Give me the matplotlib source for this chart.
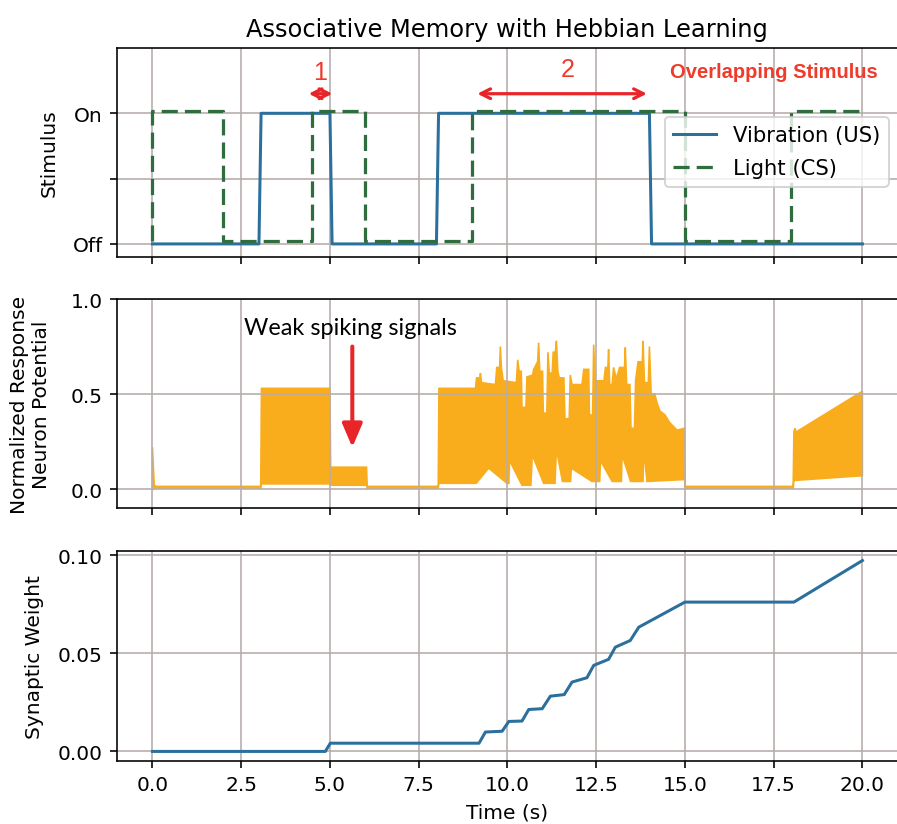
import numpy as np
import matplotlib.pyplot as plt

# stimulus traces (time in s, 0 = off, 1 = on)
us_t = [0.0, 3.0, 3.06, 5.0, 5.06, 8.0, 8.06, 14.0, 14.06, 20.0]
us_v = [0, 0, 1, 1, 0, 0, 1, 1, 0, 0]
cs_t = [0.0, 0.0, 2.0, 2.0, 4.5, 4.5, 6.0, 6.0, 9.0, 9.0, 15.0, 15.0, 18.0, 18.0, 20.0]
cs_v = [0, 1, 1, 0, 0, 1, 1, 0, 0, 1, 1, 0, 0, 1, 1]
cs_offset = 0.02

# neuron response envelope (upper / lower edge of the spiking trace)
hi_t = [0.00, 0.05, 0.10, 3.05, 3.07, 5.00, 5.02, 6.03, 6.05, 8.05, 8.07, 9.10, 9.13,
        9.22, 9.24, 9.27, 9.66, 9.70, 9.78, 9.80, 9.83, 9.88, 10.25, 10.27, 10.29,
        10.33, 10.39, 10.41, 10.52, 10.55, 10.71, 10.74, 10.85, 10.88, 10.91, 10.99,
        11.01, 11.11, 11.14, 11.18, 11.26, 11.29, 11.35, 11.38, 11.42, 11.46, 11.59,
        11.62, 11.74, 11.77, 11.82, 12.10, 12.15, 12.29, 12.31, 12.40, 12.43, 12.47,
        12.72, 12.76, 12.83, 12.85, 12.88, 12.95, 12.99, 13.07, 13.16, 13.30, 13.32,
        13.36, 13.45, 13.48, 13.58, 13.61, 13.68, 13.80, 13.82, 13.86, 13.97, 14.00,
        14.05, 14.15, 14.22, 14.30, 14.44, 14.57, 14.78, 14.99, 15.01, 18.05, 18.07,
        18.10, 18.13, 20.00]
hi_v = [0.22, 0.02, 0.014, 0.014, 0.53, 0.53, 0.115, 0.115, 0.014, 0.014, 0.53, 0.53, 0.585,
        0.585, 0.61, 0.56, 0.55, 0.64, 0.64, 0.75, 0.64, 0.57, 0.56, 0.62, 0.68,
        0.62, 0.62, 0.43, 0.43, 0.59, 0.60, 0.63, 0.67, 0.77, 0.62, 0.62,
        0.40, 0.40, 0.72, 0.61, 0.61, 0.72, 0.72, 0.78, 0.62, 0.585, 0.585,
        0.37, 0.37, 0.60, 0.55, 0.55, 0.63, 0.63, 0.39, 0.39, 0.76, 0.57,
        0.57, 0.64, 0.64, 0.735, 0.55, 0.55, 0.64, 0.58, 0.64, 0.64, 0.745,
        0.55, 0.55, 0.32, 0.32, 0.57, 0.67, 0.67, 0.78, 0.56, 0.56, 0.75,
        0.50, 0.50, 0.45, 0.41, 0.39, 0.35, 0.31, 0.32, 0.014, 0.014, 0.30,
        0.32, 0.30, 0.515]
lo_t = [0.00, 0.05, 3.05, 3.07, 5.00, 5.02, 6.03, 6.05, 8.05, 8.07, 9.12, 9.47, 9.99,
        10.04, 10.06, 10.41, 10.66, 10.70, 11.02, 11.34, 11.38, 11.55, 11.78, 11.80,
        12.38, 12.60, 12.62, 12.95, 13.21, 13.23, 13.47, 13.82, 13.84, 13.93, 14.99,
        15.01, 18.05, 18.07, 20.00]
lo_v = [-0.005, 0.005, 0.005, 0.027, 0.027, 0.02, 0.02, 0.005, 0.005, 0.03, 0.03, 0.11, 0.03,
        0.03, 0.15, 0.02, 0.02, 0.18, 0.03, 0.03, 0.21, 0.04, 0.04, 0.11,
        0.04, 0.04, 0.15, 0.04, 0.04, 0.18, 0.04, 0.04, 0.21, 0.04, 0.05,
        0.005, 0.005, 0.045, 0.07]

# synaptic weight
w_t = [0.0, 4.87, 5.01, 9.20, 9.38, 9.85, 10.04, 10.41, 10.60, 10.98, 11.21, 11.60, 11.82,
       12.24, 12.43, 12.85, 13.04, 13.46, 13.70, 15.0, 18.07, 20.0]
w_v = [0.0, 0.0, 0.0042, 0.0042, 0.0099, 0.0103, 0.0153, 0.0155, 0.0214, 0.0218, 0.0282,
       0.0290, 0.0354, 0.0376, 0.0439, 0.0470, 0.0532, 0.0566, 0.0634, 0.0762, 0.0762, 0.0974]

xticks = [0, 2.5, 5, 7.5, 10, 12.5, 15, 17.5, 20]

blue = '#2b6f9c'
green = '#2f6d3e'
orange = '#f9ad1d'
red = '#e8262a'
grid_col = '#b5adab'

fig = plt.figure(figsize=(897 / 145, 825 / 145), dpi=145)
ax1 = fig.add_axes([0.1304, 0.6873, 0.8706, 0.2533])
ax2 = fig.add_axes([0.1304, 0.3830, 0.8706, 0.2533], sharex=ax1)
ax3 = fig.add_axes([0.1304, 0.0764, 0.8706, 0.2545], sharex=ax1)

for ax in (ax1, ax2, ax3):
    ax.grid(True, color=grid_col, lw=0.8)
    ax.set_xticks(xticks)
ax1.set_xlim(-1, 21)

# stimuli
ax1.plot(us_t, us_v, color=blue, lw=1.5, label='Vibration (US)')
ax1.plot(cs_t, np.array(cs_v) + cs_offset, color=green, lw=1.6,
         linestyle=(0, (5, 2.2)), label='Light (CS)')
ax1.set_ylim(-0.1, 1.5)
ax1.set_yticks([0, 0.5, 1])
ax1.set_yticklabels(['Off', '', 'On'])
ax1.set_ylabel('Stimulus', labelpad=7)
ax1.set_title('Associative Memory with Hebbian Learning')
ax1.tick_params(labelbottom=False)
ax1.legend(loc='upper right', bbox_to_anchor=(0.988, 0.67), borderaxespad=0,
           fontsize=10.5, labelspacing=0.6)

arrow_kw = dict(arrowstyle='<->', color=red, lw=1.6, shrinkA=0, shrinkB=0,
                mutation_scale=12)
ax1.annotate('', xy=(4.40, 1.15), xytext=(5.07, 1.15), arrowprops=arrow_kw)
ax1.annotate('', xy=(9.15, 1.15), xytext=(13.93, 1.15), arrowprops=arrow_kw)
ax1.text(4.73, 1.32, '1', color='#ee3b2b', fontsize=12.5, family='Liberation Sans',
         ha='center', va='center')
ax1.text(11.7, 1.34, '2', color='#ee3b2b', fontsize=12.5, family='Liberation Sans',
         ha='center', va='center')
ax1.text(17.5, 1.32, 'Overlapping Stimulus', color='#ee3b2b', fontsize=10,
         family='Liberation Sans', fontweight='bold', ha='center', va='center')

# neuron potential envelope drawn as one polygon
poly_t = list(hi_t) + list(lo_t)[::-1]
poly_v = list(hi_v) + list(lo_v)[::-1]
ax2.fill(poly_t, poly_v, color=orange, lw=0.8, ec=orange)
ax2.set_ylim(-0.1, 1.0)
ax2.set_yticks([0, 0.5, 1.0])
ax2.set_ylabel('Normalized Response\nNeuron Potential', labelpad=10)
ax2.tick_params(labelbottom=False)
ax2.text(5.58, 0.85, 'Weak spiking signals', family='Lato', fontsize=11.7,
         ha='center', va='center')
ax2.annotate('', xy=(5.63, 0.22), xytext=(5.63, 0.75),
             arrowprops=dict(arrowstyle='-|>,head_width=0.3,head_length=0.7',
                             color=red, lw=2, shrinkA=0, shrinkB=0, mutation_scale=14))

# synaptic weight
ax3.plot(w_t, w_v, color=blue, lw=1.5)
ax3.set_yticks([0, 0.05, 0.10])
ax3.set_yticklabels(['0.00', '0.05', '0.10'])
ax3.set_ylabel('Synaptic Weight', labelpad=7)
ax3.set_xlabel('Time (s)')

fig.savefig('out.png', dpi=145)
